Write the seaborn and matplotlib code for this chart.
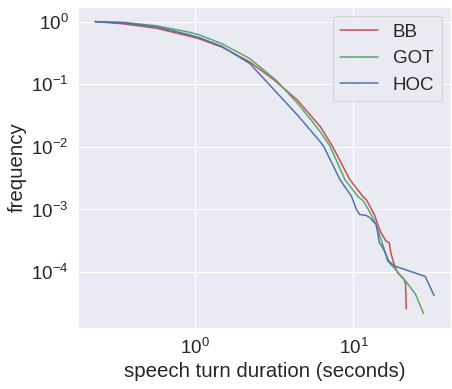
import numpy as np
import pandas as pd
import matplotlib
matplotlib.use("Agg")
import matplotlib.pyplot as plt
import seaborn as sns

# --- data ---
bb_x = [0.2325, 0.3535, 0.5701, 0.9179, 1.0589, 1.4775, 2.218, 3.171, 4.426, 6.176, 7.405, 9.485,
        11.49, 12.04, 13.56, 14.23, 14.93, 16.03, 16.81, 17.22, 18.05, 18.95, 20.83, 21.35, 21.56]
bb_y = [1.0, 0.9194, 0.7827, 0.5843, 0.5313, 0.3908, 0.2259, 0.1157, 0.0557, 0.0210, 0.01, 0.002994,
        0.001608, 0.001441, 0.000833, 0.000578, 0.000427, 0.000314, 0.000296, 0.000205, 0.000134,
        0.0000989, 0.0000774, 0.0000645, 0.0000259]

got_x = [0.2325, 0.3535, 0.5701, 0.9179, 1.0589, 1.4775, 2.218, 3.245, 4.426, 5.406, 6.176, 7.095,
         8.831, 10.69, 11.49, 12.94, 13.89, 14.93, 15.65, 16.43, 18.50, 19.87, 21.35, 24.62, 27.73]
got_y = [1.0, 0.9747, 0.8546, 0.6764, 0.6150, 0.4426, 0.2558, 0.1157, 0.0499, 0.02683, 0.0173,
         0.01037, 0.002994, 0.001608, 0.001389, 0.000833, 0.000578, 0.000334, 0.000232, 0.000151,
         0.0001096, 0.0000873, 0.0000720, 0.0000447, 0.0000219]

hoc_x = [0.2325, 0.3535, 0.5701, 0.9179, 1.0589, 1.4775, 2.218, 2.923, 4.426, 6.176, 6.511, 8.222,
         9.718, 10.44, 10.94, 12.04, 12.75, 13.89, 14.23, 14.57, 15.30, 16.03, 16.66, 18.05, 28.41, 32.31]
hoc_y = [1.0, 0.9537, 0.8240, 0.6150, 0.5572, 0.4010, 0.2130, 0.1, 0.0322, 0.0120, 0.01, 0.002994,
         0.001626, 0.001, 0.000833, 0.000803, 0.000733, 0.000578, 0.000427, 0.000296, 0.000247,
         0.000193, 0.000151, 0.000126, 0.0000854, 0.0000424]

series = ["BB", "GOT", "HOC"]
colors = ["#C44E52", "#55A868", "#4C72B0"]

sns.set_theme(style="darkgrid", font_scale=1.7)
plt.rcParams["font.family"] = ["Liberation Sans", "DejaVu Sans"]
plt.rcParams["mathtext.fontset"] = "custom"
plt.rcParams["mathtext.rm"] = "Liberation Sans"
plt.rcParams["mathtext.it"] = "Liberation Sans:italic"
plt.rcParams["mathtext.bf"] = "Liberation Sans:bold"

fig = plt.figure(figsize=(452 / 72, 389 / 72), dpi=72)
ax = fig.add_axes([78 / 452, 1 - 328 / 389, (451 - 78) / 452, (328 - 7) / 389])

data = [(bb_x, bb_y), (got_x, got_y), (hoc_x, hoc_y)]
for name, col, (xs, ys) in zip(series, colors, data):
    df = pd.DataFrame({"x": xs, "y": ys})
    sns.lineplot(data=df, x="x", y="y", ax=ax, color=col, label=name,
                 estimator=None, sort=False, linewidth=1.5)

ax.set_xscale("log")
ax.set_yscale("log")
ax.set_xlabel("speech turn duration (seconds)")
ax.set_ylabel("frequency")
ax.legend(loc="upper right")

fig.savefig("out.png", dpi=72)
